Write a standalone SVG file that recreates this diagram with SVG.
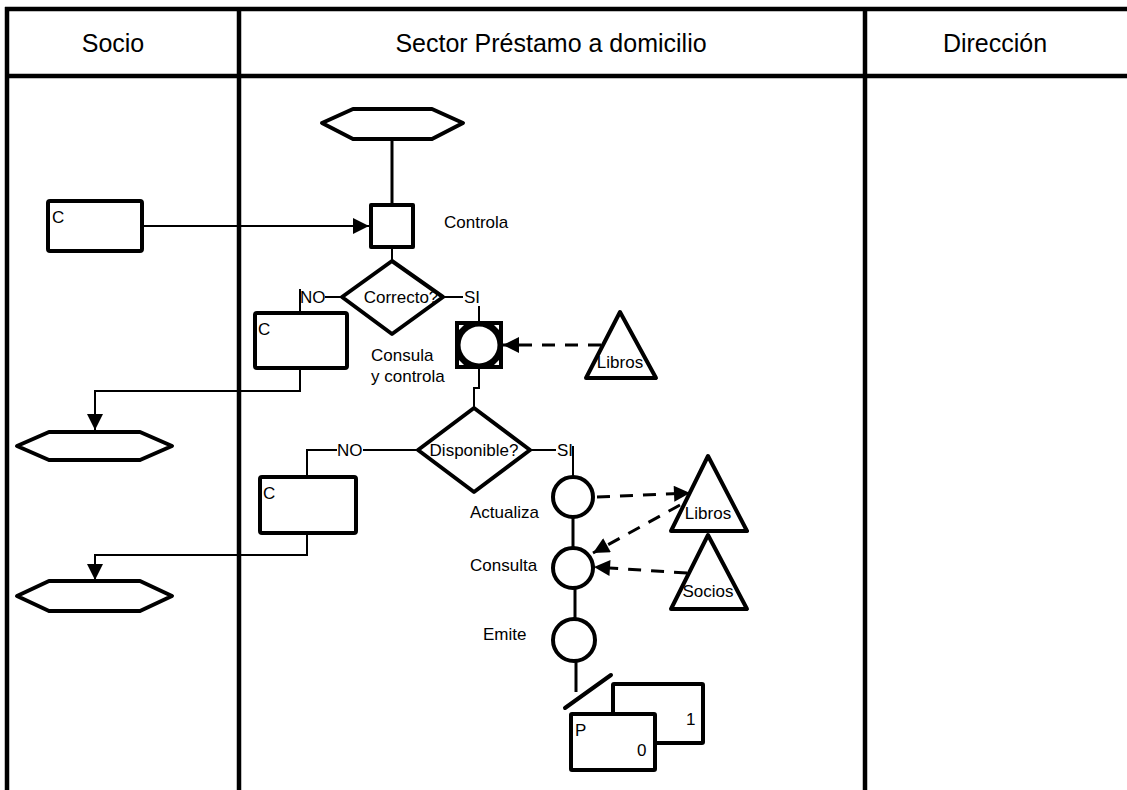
<svg xmlns="http://www.w3.org/2000/svg" width="1127" height="790" viewBox="0 0 1127 790">
<defs>
<marker id="ah" viewBox="0 0 10 10" refX="10" refY="5" markerWidth="22" markerHeight="16" markerUnits="userSpaceOnUse" orient="auto"><path d="M0,0 L10,5 L0,10 z" fill="#000"/></marker>
</defs>
<style>
.t{font-family:"Liberation Sans",Arial,sans-serif;fill:#000}
.h{font-size:25px;text-anchor:middle}
.s{font-size:17px}
.m{text-anchor:middle}
.frame{stroke:#000;stroke-width:4.5;fill:none}
.sh{stroke:#000;stroke-width:4;fill:#fff;stroke-linejoin:round}
.ln{stroke:#000;stroke-width:2;fill:none}
.th{stroke:#000;stroke-width:3;fill:none}
.ds{stroke:#000;stroke-width:3;fill:none;stroke-dasharray:13 10}
</style>
<rect width="1127" height="790" fill="#fff"/>
<g id="frame">
<line class="frame" x1="5" y1="9" x2="1127" y2="9"/>
<line class="frame" x1="5" y1="76" x2="1127" y2="76"/>
<line class="frame" x1="7" y1="7" x2="7" y2="790"/>
<line class="frame" x1="239" y1="7" x2="239" y2="790"/>
<line class="frame" x1="865" y1="7" x2="865" y2="790"/>
<text class="t h" x="113" y="52">Socio</text>
<text class="t h" x="551" y="52">Sector Préstamo a domicilio</text>
<text class="t h" x="995" y="52">Dirección</text>
</g>
<g id="connectors">
<line class="th" x1="392" y1="139" x2="392" y2="205"/>
<line class="ln" x1="142" y1="226" x2="369" y2="226" marker-end="url(#ah)"/>
<line class="ln" x1="392" y1="247" x2="392" y2="262"/>
<line class="ln" x1="342" y1="297" x2="325" y2="297"/>
<line class="ln" x1="300" y1="289" x2="300" y2="313"/>
<polyline class="ln" points="300,368 300,391 95,391 95,430" marker-end="url(#ah)"/>
<line class="ln" x1="443" y1="297" x2="463" y2="297"/>
<line class="ln" x1="479" y1="306" x2="479" y2="322"/>
<polyline class="ln" points="479,368 479,388 474,388 474,408"/>
<line class="ln" x1="418" y1="450" x2="363" y2="450"/>
<polyline class="ln" points="337,450 307,450 307,477"/>
<polyline class="ln" points="307,533 307,555 95,555 95,580" marker-end="url(#ah)"/>
<line class="ln" x1="530" y1="450" x2="556" y2="450"/>
<line class="ln" x1="573" y1="446" x2="573" y2="477"/>
<line class="th" x1="573" y1="517" x2="573" y2="548"/>
<line class="th" x1="575" y1="588" x2="575" y2="619"/>
<line class="th" x1="576" y1="661" x2="576" y2="692"/>
<line class="ds" x1="601" y1="345" x2="503" y2="345" marker-end="url(#ah)"/>
<line class="ds" x1="597" y1="497" x2="690" y2="493" marker-end="url(#ah)"/>
<line class="ds" x1="680" y1="505" x2="593" y2="553" marker-end="url(#ah)"/>
<line class="ds" x1="687" y1="573" x2="594" y2="567" marker-end="url(#ah)"/>
</g>
<g id="hex-top"><polygon class="sh" points="322,123 353,109 432,109 463,123 432,139 353,139"/></g>
<g id="rect-c1"><rect class="sh" x="48" y="201" width="94" height="50" rx="2"/><text class="t s" x="52" y="223">C</text></g>
<g id="controla"><rect class="sh" x="371" y="205" width="42" height="42"/><text class="t s" x="444" y="228">Controla</text></g>
<g id="correcto"><polygon class="sh" points="392,261 443,297 392,334 342,297"/><text class="t s m" x="401" y="303">Correcto?</text></g>
<g id="no1"><text class="t s" x="300" y="303">NO</text></g>
<g id="si1"><text class="t s" x="464" y="303">SI</text></g>
<g id="rect-c2"><rect class="sh" x="255" y="313" width="92" height="55" rx="2"/><text class="t s" x="258" y="335">C</text></g>
<g id="consula">
<rect x="456" y="322" width="46" height="46" fill="#000" stroke="#000" stroke-width="2"/>
<polygon points="459,325 464,325 459,330" fill="#fff"/>
<polygon points="499,325 494,325 499,330" fill="#fff"/>
<polygon points="459,365 464,365 459,360" fill="#fff"/>
<polygon points="499,365 494,365 499,360" fill="#fff"/>
<circle cx="479" cy="345" r="18.5" fill="#fff"/>
<text class="t s" x="371" y="361">Consula</text><text class="t s" x="371" y="382">y controla</text>
</g>
<g id="libros1"><polygon class="sh" points="620,312 656,378 586,378"/><text class="t s m" x="620" y="368">Libros</text></g>
<g id="hex-l1"><polygon class="sh" points="17,446 49,432 140,432 172,446 140,460 49,460"/></g>
<g id="disponible"><polygon class="sh" points="474,408 530,450 474,492 418,450"/><text class="t s m" x="474" y="456">Disponible?</text></g>
<g id="no2"><text class="t s" x="337" y="456">NO</text></g>
<g id="si2"><text class="t s" x="557" y="456">SI</text></g>
<g id="rect-c3"><rect class="sh" x="260" y="477" width="96" height="56" rx="2"/><text class="t s" x="263" y="499">C</text></g>
<g id="hex-l2"><polygon class="sh" points="17,596 49,581 140,581 172,596 140,611 49,611"/></g>
<g id="actualiza"><circle class="sh" cx="573" cy="497" r="20"/><text class="t s" x="470" y="518">Actualiza</text></g>
<g id="consulta"><circle class="sh" cx="573" cy="568" r="20"/><text class="t s" x="470" y="571">Consulta</text></g>
<g id="emite"><circle class="sh" cx="574" cy="640" r="21"/><text class="t s" x="483" y="640">Emite</text></g>
<g id="libros2"><polygon class="sh" points="708,456 747,531 671,531"/><text class="t s m" x="708" y="519">Libros</text></g>
<g id="socios"><polygon class="sh" points="708,535 747,609 671,609"/><text class="t s m" x="708" y="597">Socios</text></g>
<g id="docs">
<line stroke="#000" stroke-width="4" stroke-linecap="round" x1="565" y1="708" x2="611" y2="675"/>
<rect class="sh" x="613" y="684" width="90" height="59" rx="1"/><text class="t s" x="686" y="725">1</text>
<rect class="sh" x="571" y="714" width="84" height="56" rx="1"/><text class="t s" x="575" y="736">P</text><text class="t s" x="637" y="756">0</text>
</g>
</svg>
